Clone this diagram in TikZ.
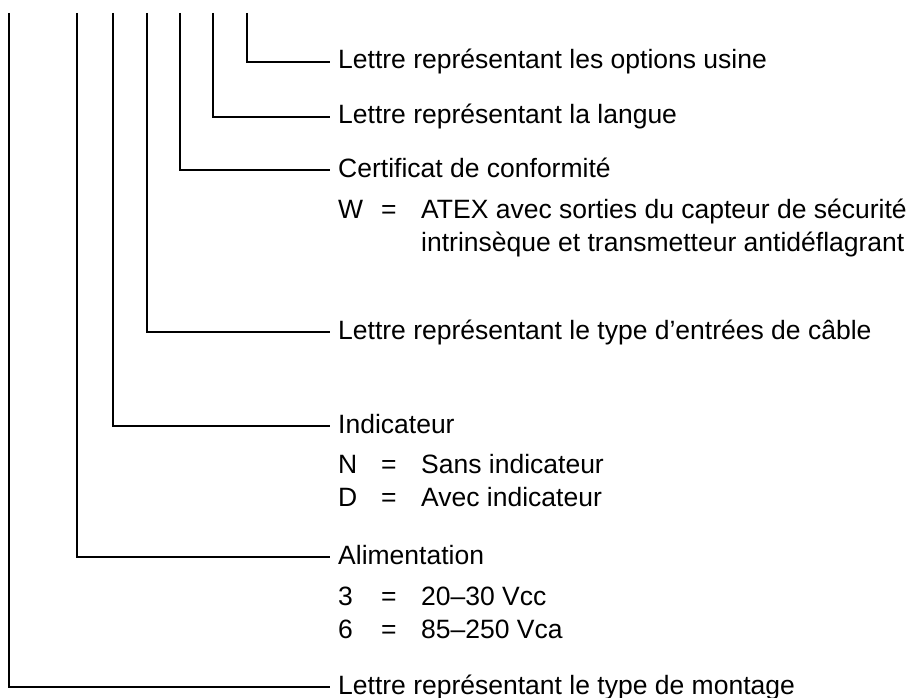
\documentclass[tikz,border=0pt]{standalone}
\usepackage{fontspec}
\setmainfont{Liberation Sans}

\begin{document}
\begin{tikzpicture}[
  x=1pt, y=-1pt,
  entry/.style={anchor=base west, inner sep=0pt, font=\fontsize{26.5}{30}\selectfont},
  leader/.style={line width=2pt},
]
\useasboundingbox (0,0) rectangle (912,698);

\foreach \name/\xx in {montage/9, alim/77, indic/113, cable/147, certif/180, langue/213, usine/247} {
  \coordinate (top-\name) at (\xx, 13);
}

\node (usine) [entry] at (338, 69) {Lettre représentant les options usine};
\node (langue) [entry] at (338, 124) {Lettre représentant la langue};
\node (certif) [entry] at (338, 177) {Certificat de conformité};
\node (certifW) [entry] at (338, 218) {W};
\node (certifWeq) [entry] at (381, 218) {=};
\node (certifWa) [entry] at (421, 218) {ATEX avec sorties du capteur de sécurité};
\node (certifWb) [entry] at (421, 251) {intrinsèque et transmetteur antidéflagrant};
\node (cable) [entry] at (338, 339) {Lettre représentant le type d’entrées de câble};
\node (indic) [entry] at (338, 433) {Indicateur};
\node (indicN) [entry] at (338, 473) {N};
\node (indicNeq) [entry] at (381, 473) {=};
\node (indicNv) [entry] at (421, 473) {Sans indicateur};
\node (indicD) [entry] at (338, 506) {D};
\node (indicDeq) [entry] at (381, 506) {=};
\node (indicDv) [entry] at (421, 506) {Avec indicateur};
\node (alim) [entry] at (338, 564) {Alimentation};
\node (alim3) [entry] at (338, 605) {3};
\node (alim3eq) [entry] at (381, 605) {=};
\node (alim3v) [entry] at (421, 605) {20–30 Vcc};
\node (alim6) [entry] at (338, 638) {6};
\node (alim6eq) [entry] at (381, 638) {=};
\node (alim6v) [entry] at (421, 638) {85–250 Vca};
\node (montage) [entry] at (338, 694) {Lettre représentant le type de montage};

\foreach \name in {montage, alim, indic, cable, certif, langue, usine} {
  \draw[leader] (top-\name) |- ([xshift=-8pt, yshift=7pt]\name.base west);
}

\end{tikzpicture}
\end{document}
